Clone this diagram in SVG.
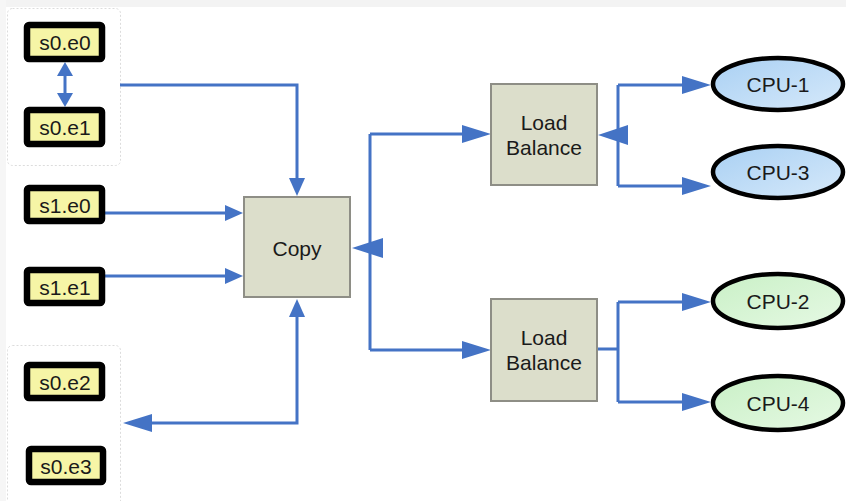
<svg xmlns="http://www.w3.org/2000/svg" width="846" height="501" viewBox="0 0 846 501">
<defs>
<style>
text{font-family:"Liberation Sans",Arial,sans-serif;fill:#1a1a1a;text-anchor:middle;dominant-baseline:central}
.src rect{fill:#f6f5a6;stroke:#000;stroke-width:6.5}
.src text{font-size:21px}
.proc rect{fill:#dcdecb;stroke:#8e8e86;stroke-width:2}
.proc text{font-size:21px}
.cpu ellipse{stroke:#000;stroke-width:4.5}
.cpu text{font-size:21px}
.grp{fill:#fff;stroke:#dcdcdc;stroke-width:1;stroke-dasharray:2 2}
.c{fill:none;stroke:#4473c5;stroke-width:3}
.ah{fill:#4473c5}
</style>
<linearGradient id="blue" x1="0" y1="0" x2="1" y2="1">
<stop offset="0" stop-color="#a9d0f3"/><stop offset="1" stop-color="#d6e9fa"/>
</linearGradient>
<linearGradient id="green" x1="0" y1="0" x2="1" y2="1">
<stop offset="0" stop-color="#c9f0c6"/><stop offset="1" stop-color="#e6f9e4"/>
</linearGradient>
</defs>
<rect width="846" height="501" fill="#ffffff"/>
<rect width="846" height="7" fill="#f3f3f3"/>
<rect width="6" height="501" fill="#f6f6f6"/>
<rect class="grp" x="7.5" y="8.5" width="113" height="157" rx="5"/>
<rect class="grp" x="7.5" y="345.5" width="113" height="170" rx="5"/>

<g id="connectors">
<path class="c" d="M65,74 V95"/>
<polygon class="ah" points="65,62 57,76 73,76"/>
<polygon class="ah" points="65,107 57,93 73,93"/>
<path class="c" d="M120,85 H297 V182"/>
<polygon class="ah" points="297,196 289,178 305,178"/>
<path class="c" d="M105,213 H228"/>
<polygon class="ah" points="243,213 225,205 225,221"/>
<path class="c" d="M105,276 H228"/>
<polygon class="ah" points="243,276 225,268 225,284"/>
<path class="c" d="M297,313 V423 H140"/>
<polygon class="ah" points="297,299 289,317 305,317"/>
<polygon class="ah" points="123,423 152,414 152,432"/>
<path class="c" d="M366,248 H370 M370,134 V350 M370,134 H476 M370,350 H476"/>
<polygon class="ah" points="352,248 383,238 383,258"/>
<polygon class="ah" points="491,134 462,125 462,143"/>
<polygon class="ah" points="491,350 462,341 462,359"/>
<path class="c" d="M612,135 H618 M618,85 V186 M618,85 H695 M618,186 H695"/>
<polygon class="ah" points="598,135 628,125 628,145"/>
<polygon class="ah" points="711,85 682,76 682,94"/>
<polygon class="ah" points="711,186 682,177 682,195"/>
<path class="c" d="M598,349 H618 M618,302 V402 M618,302 H695 M618,402 H695"/>
<polygon class="ah" points="711,302 682,293 682,311"/>
<polygon class="ah" points="711,402 682,393 682,411"/>
</g>

<g id="s0e0" class="src"><rect x="27" y="25" width="75" height="34" rx="2"/><text x="65" y="42">s0.e0</text></g>
<g id="s0e1" class="src"><rect x="27" y="110" width="75" height="34" rx="2"/><text x="65" y="127">s0.e1</text></g>
<g id="s1e0" class="src"><rect x="27" y="188" width="75" height="33" rx="2"/><text x="65" y="205">s1.e0</text></g>
<g id="s1e1" class="src"><rect x="27" y="270" width="75" height="33" rx="2"/><text x="65" y="287">s1.e1</text></g>
<g id="s0e2" class="src"><rect x="27" y="365" width="75" height="33" rx="2"/><text x="65" y="382">s0.e2</text></g>
<g id="s0e3" class="src"><rect x="29" y="449" width="74" height="33" rx="2"/><text x="66" y="466">s0.e3</text></g>

<g id="copy" class="proc"><rect x="244" y="197" width="106" height="100"/><text x="297" y="248">Copy</text></g>
<g id="lb1" class="proc"><rect x="491" y="84" width="106" height="101"/><text x="544" y="122">Load</text><text x="544" y="147">Balance</text></g>
<g id="lb2" class="proc"><rect x="491" y="299" width="106" height="102"/><text x="544" y="337">Load</text><text x="544" y="362">Balance</text></g>

<g id="cpu1" class="cpu"><ellipse cx="778" cy="84" rx="65" ry="26" fill="url(#blue)"/><text x="778" y="84">CPU-1</text></g>
<g id="cpu3" class="cpu"><ellipse cx="778" cy="172" rx="65" ry="26" fill="url(#blue)"/><text x="778" y="172">CPU-3</text></g>
<g id="cpu2" class="cpu"><ellipse cx="778" cy="301" rx="65" ry="27" fill="url(#green)"/><text x="778" y="301">CPU-2</text></g>
<g id="cpu4" class="cpu"><ellipse cx="778" cy="403" rx="65" ry="27" fill="url(#green)"/><text x="778" y="403">CPU-4</text></g>
</svg>
